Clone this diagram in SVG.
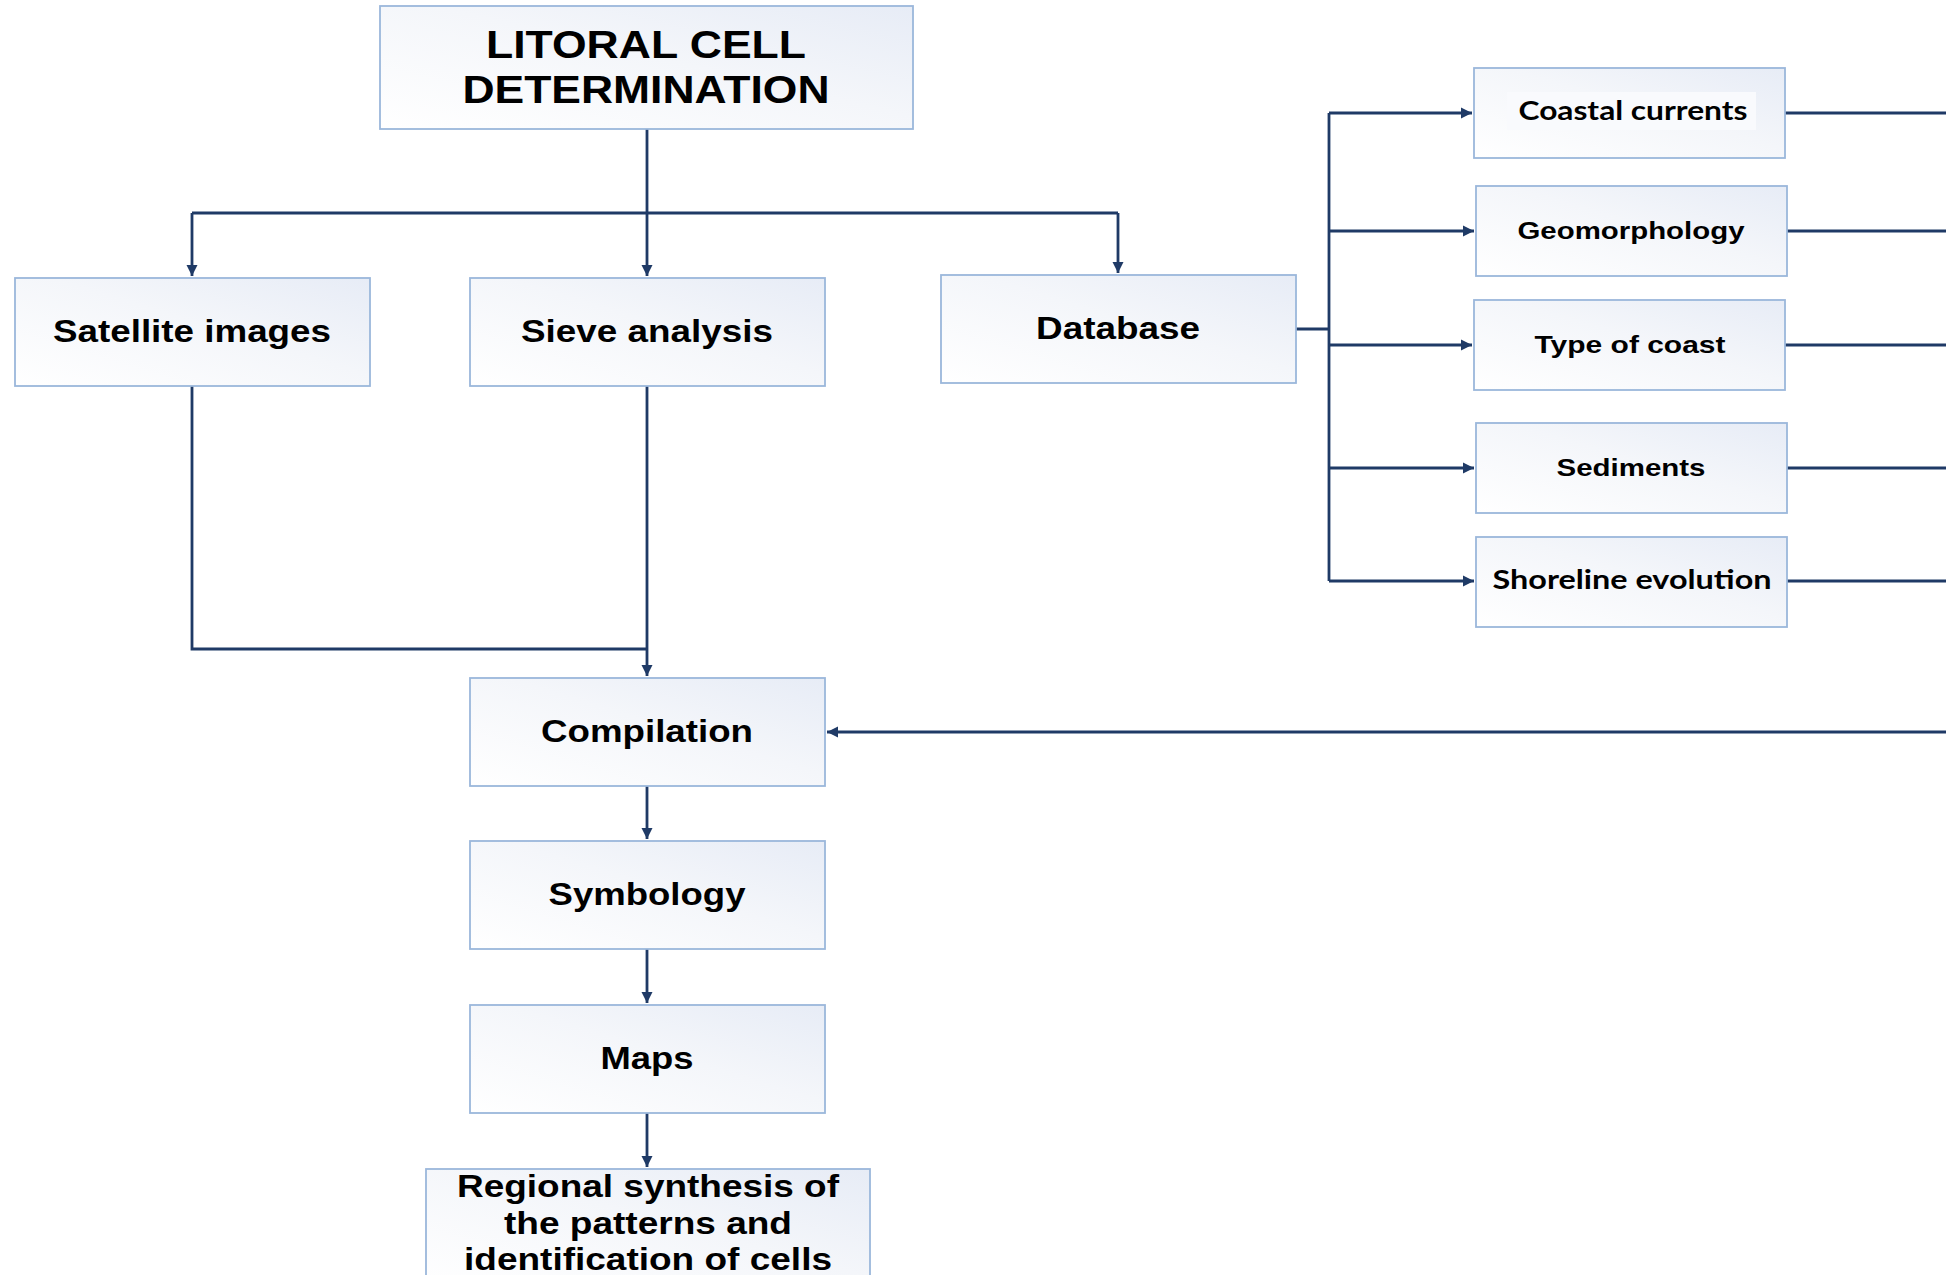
<svg xmlns="http://www.w3.org/2000/svg" width="1946" height="1275" viewBox="0 0 1946 1275">
<style>
.box{fill:url(#g);stroke:#9bb7db;stroke-width:1.8}
.t{font-family:"Liberation Sans",Arial,sans-serif;font-weight:bold;fill:#000;text-anchor:middle}
.c{font-family:Lato,"Open Sans",sans-serif;font-weight:bold;fill:#000;text-anchor:middle}
.ln{fill:none;stroke:#1f3a66;stroke-width:2.8}
</style>
<defs>
<linearGradient id="g" x1="0" y1="1" x2="1" y2="0">
<stop offset="0" stop-color="#ffffff"/>
<stop offset="0.55" stop-color="#f4f6fa"/>
<stop offset="1" stop-color="#e7ecf6"/>
</linearGradient>
<marker id="a" markerUnits="userSpaceOnUse" markerWidth="13" markerHeight="13" refX="11" refY="6.5" orient="auto">
<path d="M0,1 L11,6.5 L0,12 z" fill="#1f3a66"/>
</marker>
</defs>
<rect width="1946" height="1275" fill="#fff"/>
<g id="connectors">
<path class="ln" d="M647,129 V276" marker-end="url(#a)"/>
<path class="ln" d="M192,213 H1118"/>
<path class="ln" d="M192,213 V276" marker-end="url(#a)"/>
<path class="ln" d="M1118,213 V273" marker-end="url(#a)"/>
<path class="ln" d="M192,386 V649 H647"/>
<path class="ln" d="M647,386 V676" marker-end="url(#a)"/>
<path class="ln" d="M647,786 V839" marker-end="url(#a)"/>
<path class="ln" d="M647,949 V1003" marker-end="url(#a)"/>
<path class="ln" d="M647,1113 V1167" marker-end="url(#a)"/>
<path class="ln" d="M1296,329 H1329"/>
<path class="ln" d="M1329,113 V581"/>
<path class="ln" d="M1329,113 H1472" marker-end="url(#a)"/>
<path class="ln" d="M1329,231 H1474" marker-end="url(#a)"/>
<path class="ln" d="M1329,345 H1472" marker-end="url(#a)"/>
<path class="ln" d="M1329,468 H1474" marker-end="url(#a)"/>
<path class="ln" d="M1329,581 H1474" marker-end="url(#a)"/>
<path class="ln" d="M1785,113 H1946"/>
<path class="ln" d="M1787,231 H1946"/>
<path class="ln" d="M1785,345 H1946"/>
<path class="ln" d="M1787,468 H1946"/>
<path class="ln" d="M1787,581 H1946"/>
<path class="ln" d="M1946,732 H827" marker-end="url(#a)"/>
</g>
<g id="title">
<rect class="box" x="380" y="6" width="533" height="123"/>
<text class="t" x="646" y="58" font-size="39" textLength="320" lengthAdjust="spacingAndGlyphs">LITORAL CELL</text>
<text class="t" x="646" y="103" font-size="39" textLength="367" lengthAdjust="spacingAndGlyphs">DETERMINATION</text>
</g>
<g id="satellite">
<rect class="box" x="15" y="278" width="355" height="108"/>
<text class="t" x="192" y="342" font-size="31" textLength="278" lengthAdjust="spacingAndGlyphs">Satellite images</text>
</g>
<g id="sieve">
<rect class="box" x="470" y="278" width="355" height="108"/>
<text class="t" x="647" y="342" font-size="31" textLength="252" lengthAdjust="spacingAndGlyphs">Sieve analysis</text>
</g>
<g id="database">
<rect class="box" x="941" y="275" width="355" height="108"/>
<text class="t" x="1118" y="339" font-size="31" textLength="164" lengthAdjust="spacingAndGlyphs">Database</text>
</g>
<g id="compilation">
<rect class="box" x="470" y="678" width="355" height="108"/>
<text class="t" x="647" y="742" font-size="31" textLength="212" lengthAdjust="spacingAndGlyphs">Compilation</text>
</g>
<g id="symbology">
<rect class="box" x="470" y="841" width="355" height="108"/>
<text class="t" x="647" y="905" font-size="31" textLength="197" lengthAdjust="spacingAndGlyphs">Symbology</text>
</g>
<g id="maps">
<rect class="box" x="470" y="1005" width="355" height="108"/>
<text class="t" x="647" y="1069" font-size="31" textLength="93" lengthAdjust="spacingAndGlyphs">Maps</text>
</g>
<g id="regional">
<rect class="box" x="426" y="1169" width="444" height="120"/>
<text class="t" x="648" y="1197" font-size="31" textLength="382" lengthAdjust="spacingAndGlyphs">Regional synthesis of</text>
<text class="t" x="648" y="1234" font-size="31" textLength="288" lengthAdjust="spacingAndGlyphs">the patterns and</text>
<text class="t" x="648" y="1270" font-size="31" textLength="368" lengthAdjust="spacingAndGlyphs">identification of cells</text>
</g>
<g id="coastal-currents">
<rect class="box" x="1474" y="68" width="311" height="90"/>
<rect x="1507" y="92" width="249" height="38" fill="#f9fafd"/>
<text class="c" x="1633" y="120" font-size="26" textLength="229" lengthAdjust="spacingAndGlyphs">Coastal currents</text>
</g>
<g id="geomorphology">
<rect class="box" x="1476" y="186" width="311" height="90"/>
<text class="t" x="1631" y="239" font-size="24" textLength="227" lengthAdjust="spacingAndGlyphs">Geomorphology</text>
</g>
<g id="type-of-coast">
<rect class="box" x="1474" y="300" width="311" height="90"/>
<text class="t" x="1630" y="353" font-size="24" textLength="191" lengthAdjust="spacingAndGlyphs">Type of coast</text>
</g>
<g id="sediments">
<rect class="box" x="1476" y="423" width="311" height="90"/>
<text class="t" x="1631" y="476" font-size="24" textLength="149" lengthAdjust="spacingAndGlyphs">Sediments</text>
</g>
<g id="shoreline">
<rect class="box" x="1476" y="537" width="311" height="90"/>
<text class="c" x="1632" y="589" font-size="26" textLength="279" lengthAdjust="spacingAndGlyphs">Shoreline evolution</text>
</g>
</svg>
